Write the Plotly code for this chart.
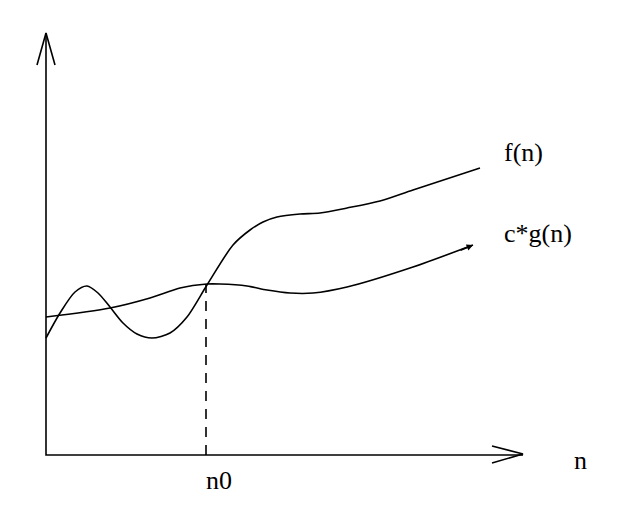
import plotly.graph_objects as go

# Data (units: origin at the axes corner)
f_x = [0, 14, 29, 41, 52, 64, 77, 91, 106, 124, 141, 161, 187, 204, 217, 231, 254, 274, 301, 334, 367, 434]
f_y = [117, 142, 163, 169, 162, 148, 132, 121, 117, 122, 138, 170, 210, 225, 233, 238, 241, 242, 247, 254, 265, 287]
g_x = [0, 64, 104, 134, 161, 174, 201, 221, 244, 267, 301, 367, 427]
g_y = [138, 147, 157, 167, 171, 171, 169, 165, 162, 162, 168, 188, 210]
n0_x = 160
n0_y = 171

fig = go.Figure()
line = dict(color="black", width=1.6)
fig.add_trace(go.Scatter(x=f_x, y=f_y, mode="lines", line=dict(color="black", width=1.6, shape="spline", smoothing=0.8), hoverinfo="skip"))
fig.add_trace(go.Scatter(x=g_x, y=g_y, mode="lines", line=dict(color="black", width=1.6, shape="spline", smoothing=0.8), hoverinfo="skip"))
# dashed n0 line
fig.add_trace(go.Scatter(x=[n0_x, n0_x], y=[0, n0_y], mode="lines", line=dict(color="black", width=1.6, dash="10px,8px"), hoverinfo="skip"))
# axes
fig.add_trace(go.Scatter(x=[0, 0, 477], y=[422, 0, 0], mode="lines", line=line, hoverinfo="skip"))
# arrow heads (open)
fig.add_trace(go.Scatter(x=[-9, 0, 9], y=[390, 422, 390], mode="lines", line=line, hoverinfo="skip"))
fig.add_trace(go.Scatter(x=[446, 477, 446], y=[9, 1, -8], mode="lines", line=line, hoverinfo="skip"))

# arrow at end of g
fig.add_annotation(x=g_x[-1], y=g_y[-1], ax=g_x[-1] - 14, ay=g_y[-1] - 6, xref="x", yref="y", axref="x", ayref="y",
                   showarrow=True, arrowhead=2, arrowsize=0.8, arrowwidth=1.6, arrowcolor="black", text="")

font = dict(family="Liberation Serif", size=26, color="black")
fig.add_annotation(x=456, y=303, text="f(n)", showarrow=False, xanchor="left", yanchor="middle", font=font)
fig.add_annotation(x=456, y=222, text="c*g(n)", showarrow=False, xanchor="left", yanchor="middle", font=font)
fig.add_annotation(x=526, y=-5, text="n", showarrow=False, xanchor="left", yanchor="middle", font=font)
fig.add_annotation(x=173, y=-25, text="n0", showarrow=False, xanchor="center", yanchor="middle", font=font)

fig.update_layout(
    width=626, height=516, margin=dict(l=0, r=0, t=0, b=0),
    plot_bgcolor="white", paper_bgcolor="white", showlegend=False,
    xaxis=dict(range=[-38, 588], visible=False, fixedrange=True),
    yaxis=dict(range=[-69, 447], visible=False, fixedrange=True),
)
fig.write_html("out.html")
